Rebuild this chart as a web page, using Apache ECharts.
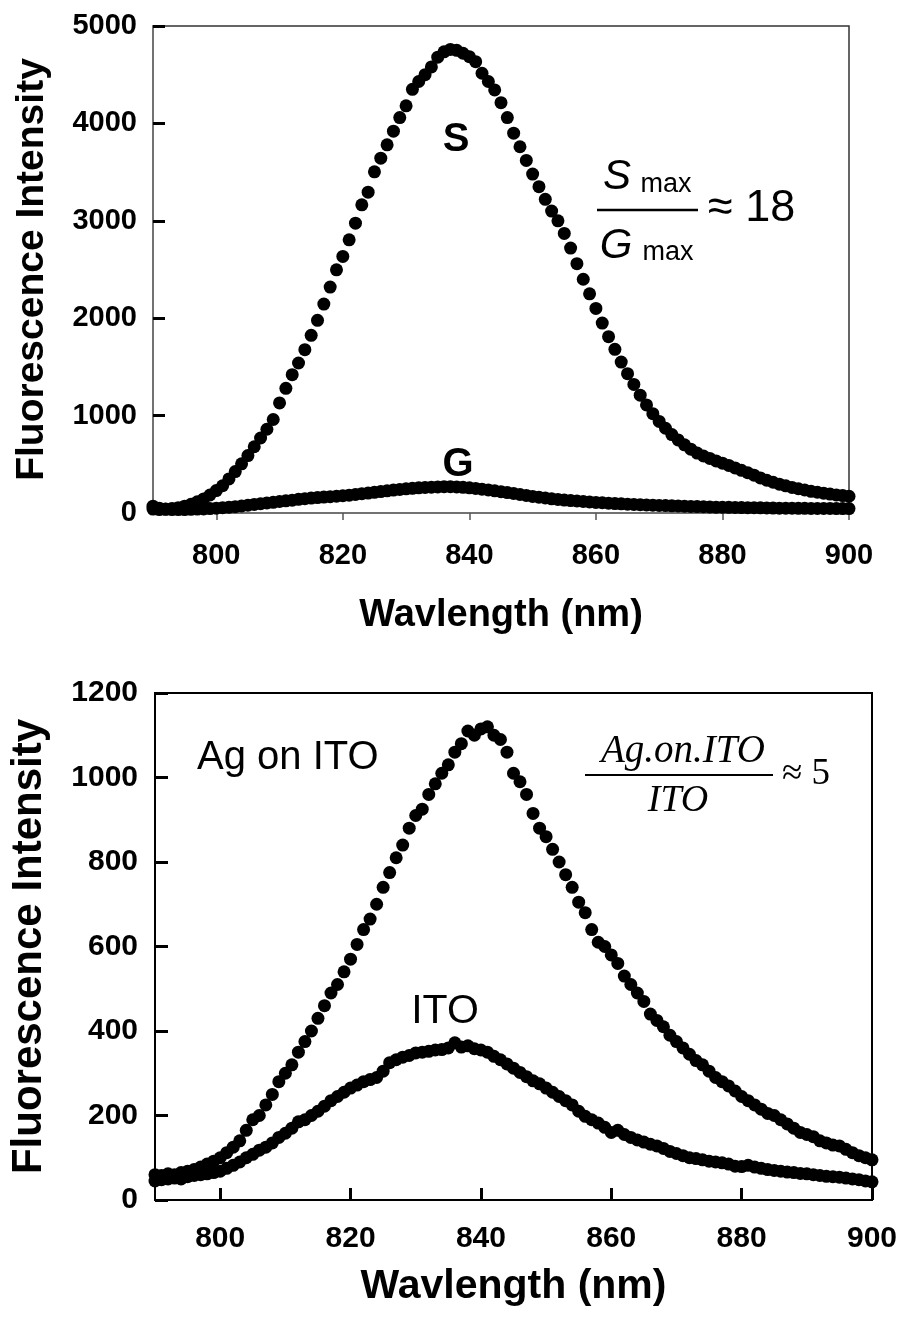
<!DOCTYPE html>
<html>
<head>
<meta charset="utf-8">
<script src="https://cdn.jsdelivr.net/npm/echarts@6/dist/echarts.min.js"></script>
<style>
  html, body { margin: 0; padding: 0; background: #fff; }
  #chart { width: 902px; height: 1317px; }
</style>
</head>
<body>
<div id="chart"></div>
<script>
// wavelength grid (nm), shared by all four spectra
var wavelength = [790,791,792,793,794,795,796,797,798,799,800,801,802,803,804,805,806,807,808,809,810,811,812,813,814,815,816,817,818,819,820,821,822,823,824,825,826,827,828,829,830,831,832,833,834,835,836,837,838,839,840,841,842,843,844,845,846,847,848,849,850,851,852,853,854,855,856,857,858,859,860,861,862,863,864,865,866,867,868,869,870,871,872,873,874,875,876,877,878,879,880,881,882,883,884,885,886,887,888,889,890,891,892,893,894,895,896,897,898,899,900];

// top panel: S and G
var sValues = [40,35,38,45,55,70,90,115,145,185,230,280,350,425,505,590,680,770,860,960,1130,1280,1420,1540,1677,1824,1978,2145,2320,2497,2634,2805,2976,3164,3294,3503,3643,3780,3920,4060,4180,4350,4430,4500,4580,4680,4735,4760,4750,4720,4685,4634,4515,4430,4344,4213,4060,3900,3760,3620,3480,3350,3220,3100,3000,2870,2720,2560,2400,2250,2100,1950,1810,1680,1550,1430,1320,1210,1110,1020,940,870,805,750,700,655,615,585,560,535,512,488,463,438,413,388,360,336,316,296,279,263,249,236,223,213,203,194,186,179,172];
var gValues = [70,50,40,35,35,35,38,40,42,45,50,55,60,65,72,80,88,95,103,110,118,125,132,140,147,153,158,163,168,172,177,183,190,198,205,212,220,228,235,242,248,253,258,262,265,268,270,270,268,264,258,252,245,237,228,219,210,200,190,180,170,162,154,146,139,133,128,123,118,113,109,105,101,97,94,91,88,85,82,80,78,76,74,72,70,68,66,64,62,60,59,58,57,56,55,54,53,52,51,50,50,49,48,48,47,47,46,46,45,45,45];

// bottom panel: Ag on ITO and ITO
var agValues = [60,58,62,60,65,68,72,78,85,92,100,112,125,140,165,190,200,225,250,280,300,320,350,375,400,430,460,490,510,540,570,605,640,665,700,740,775,810,840,880,910,925,960,985,1010,1030,1060,1080,1110,1100,1115,1120,1100,1090,1060,1010,990,960,915,880,860,830,800,770,740,705,680,640,610,600,580,560,530,510,490,470,440,425,410,390,375,360,345,330,320,305,290,280,270,258,245,235,225,215,205,200,190,180,170,160,155,150,140,135,130,128,120,112,105,100,95];
var itoValues = [45,48,50,52,50,55,58,60,62,65,68,75,82,90,100,108,118,125,135,148,158,170,185,190,200,210,222,235,245,255,265,272,280,285,290,305,325,332,338,342,348,350,352,355,356,360,372,362,365,358,355,350,340,332,322,312,302,292,282,275,265,255,245,235,225,210,198,190,182,172,160,165,155,148,142,137,132,128,122,115,110,105,100,98,95,92,90,88,85,80,79,82,78,75,72,70,68,66,65,63,62,60,58,56,55,54,52,50,48,45,43];

// tick labels
var xTicks = [800, 820, 840, 860, 880, 900];

function pairs(ys) {
    var out = [];
    for (var i = 0; i < wavelength.length; i++) {
        out.push([wavelength[i], ys[i]]);
    }
    return out;
}

var sans = "'Liberation Sans', Arial, sans-serif";
var serif = "'Liberation Serif', 'Times New Roman', serif";

var myChart = echarts.init(document.getElementById('chart'), null, { renderer: 'canvas' });

function dotSeries(ys, axisIdx) {
    return {
        type: 'scatter',
        xAxisIndex: axisIdx,
        yAxisIndex: axisIdx,
        data: pairs(ys),
        symbol: 'circle',
        symbolSize: 13,
        itemStyle: { color: '#000', opacity: 1 },
        animation: false,
        silent: true
    };
}

// plain numbers, no thousands separator
function plain(v) {
    return String(v);
}

myChart.setOption({
    backgroundColor: '#fff',
    grid: [
        { left: 153, top: 26, width: 696, height: 487, show: true, borderColor: '#333', borderWidth: 1.5 },
        { left: 147, top: 693, width: 725, height: 507, show: true, borderColor: '#000', borderWidth: 2 }
    ],
    xAxis: [
        {
            gridIndex: 0, type: 'value', min: 790, max: 900,
            name: 'Wavlength (nm)', nameLocation: 'middle', nameGap: 84,
            nameTextStyle: { fontFamily: sans, fontWeight: 'bold', fontSize: 38, color: '#000', verticalAlign: 'top' },
            axisLine: { show: true, lineStyle: { color: '#777', width: 1.5 } },
            axisTick: { show: true, inside: false, length: 7, customValues: xTicks, lineStyle: { color: '#555', width: 1.5 } },
            axisLabel: { customValues: xTicks, formatter: plain, margin: 28, fontFamily: sans, fontWeight: 'bold', fontSize: 29, color: '#000' },
            splitLine: { show: false }
        },
        {
            gridIndex: 1, type: 'value', min: 790, max: 900,
            name: 'Wavlength (nm)', nameLocation: 'middle', nameGap: 66,
            nameTextStyle: { fontFamily: sans, fontWeight: 'bold', fontSize: 41, color: '#000', verticalAlign: 'top' },
            axisLine: { show: true, lineStyle: { color: '#000', width: 2 } },
            axisTick: { show: true, inside: true, length: 12, customValues: xTicks, lineStyle: { color: '#000', width: 3 } },
            axisLabel: { customValues: xTicks, formatter: plain, margin: 24, fontFamily: sans, fontWeight: 'bold', fontSize: 30, color: '#000' },
            splitLine: { show: false }
        }
    ],
    yAxis: [
        {
            gridIndex: 0, type: 'value', min: 0, max: 5000, interval: 1000,
            name: 'Fluorescence Intensity', nameLocation: 'middle', nameGap: 101, nameRotate: 90,
            nameTextStyle: { fontFamily: sans, fontWeight: 'bold', fontSize: 39, color: '#000', verticalAlign: 'bottom' },
            axisLine: { show: true, lineStyle: { color: '#777', width: 1.5 } },
            axisTick: { show: true, inside: true, length: 12, lineStyle: { color: '#000', width: 3 } },
            axisLabel: { formatter: plain, margin: 16, fontFamily: sans, fontWeight: 'bold', fontSize: 29, color: '#000' },
            splitLine: { show: false }
        },
        {
            gridIndex: 1, type: 'value', min: 0, max: 1200, interval: 200,
            name: 'Fluorescence Intensity', nameLocation: 'middle', nameGap: 105, nameRotate: 90,
            nameTextStyle: { fontFamily: sans, fontWeight: 'bold', fontSize: 42, color: '#000', verticalAlign: 'bottom' },
            axisLine: { show: true, lineStyle: { color: '#000', width: 2 } },
            axisTick: { show: true, inside: true, length: 13, lineStyle: { color: '#000', width: 3 } },
            axisLabel: { formatter: plain, margin: 17, fontFamily: sans, fontWeight: 'bold', fontSize: 30, color: '#000' },
            splitLine: { show: false }
        }
    ],
    series: [
        dotSeries(sValues, 0),
        dotSeries(gValues, 0),
        dotSeries(agValues, 1),
        dotSeries(itoValues, 1)
    ],
    graphic: [
        // top panel labels
        { type: 'text', x: 456, y: 140, style: { text: 'S', fontFamily: sans, fontWeight: 'bold', fontSize: 40, fill: '#000', align: 'center', verticalAlign: 'middle' } },
        { type: 'text', x: 458, y: 465, style: { text: 'G', fontFamily: sans, fontWeight: 'bold', fontSize: 40, fill: '#000', align: 'center', verticalAlign: 'middle' } },
        // S max / G max ≈ 18
        { type: 'text', x: 617, y: 177, style: { text: 'S', fontFamily: sans, fontStyle: 'italic', fontSize: 42, fill: '#000', align: 'center', verticalAlign: 'middle' } },
        { type: 'text', x: 666, y: 185, style: { text: 'max', fontFamily: sans, fontSize: 27, fill: '#000', align: 'center', verticalAlign: 'middle' } },
        { type: 'line', shape: { x1: 597, y1: 210, x2: 698, y2: 210 }, style: { stroke: '#000', lineWidth: 2.5 } },
        { type: 'text', x: 616, y: 246, style: { text: 'G', fontFamily: sans, fontStyle: 'italic', fontSize: 42, fill: '#000', align: 'center', verticalAlign: 'middle' } },
        { type: 'text', x: 668, y: 253, style: { text: 'max', fontFamily: sans, fontSize: 27, fill: '#000', align: 'center', verticalAlign: 'middle' } },
        { type: 'text', x: 708, y: 209, style: { text: '\u2248 18', fontFamily: sans, fontSize: 45, fill: '#000', align: 'left', verticalAlign: 'middle' } },
        // bottom panel labels
        { type: 'text', x: 197, y: 758, style: { text: 'Ag on ITO', fontFamily: sans, fontSize: 40, fill: '#000', align: 'left', verticalAlign: 'middle' } },
        { type: 'text', x: 445, y: 1012, style: { text: 'ITO', fontFamily: sans, fontSize: 41, fill: '#000', align: 'center', verticalAlign: 'middle' } },
        // Ag.on.ITO / ITO ≈ 5
        { type: 'text', x: 683, y: 752, style: { text: 'Ag.on.ITO', fontFamily: serif, fontStyle: 'italic', fontSize: 39, fill: '#000', align: 'center', verticalAlign: 'middle' } },
        { type: 'line', shape: { x1: 585, y1: 775, x2: 773, y2: 775 }, style: { stroke: '#000', lineWidth: 2 } },
        { type: 'text', x: 678, y: 801, style: { text: 'ITO', fontFamily: serif, fontStyle: 'italic', fontSize: 38, fill: '#000', align: 'center', verticalAlign: 'middle' } },
        { type: 'text', x: 782, y: 774, style: { text: '\u2248 5', fontFamily: serif, fontSize: 37, fill: '#000', align: 'left', verticalAlign: 'middle' } }
    ]
});
</script>
</body>
</html>
